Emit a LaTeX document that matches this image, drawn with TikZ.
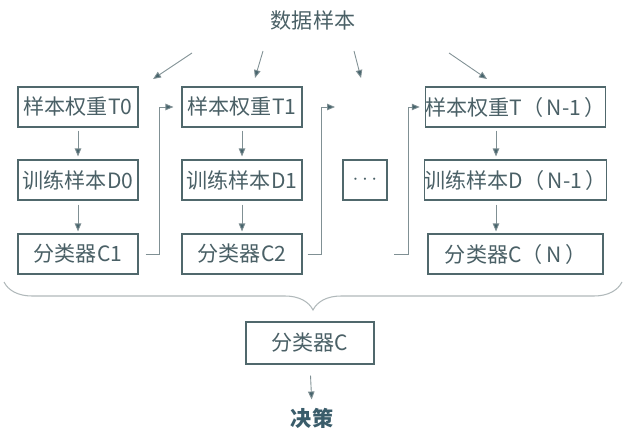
\documentclass[tikz,border=0pt]{standalone}
\usepackage{fontspec}
\setmainfont{Noto Sans CJK SC}
\usepackage{tikz}
\usetikzlibrary{arrows.meta,positioning,calc,decorations.pathreplacing}
\definecolor{boxC}{RGB}{80,104,108}
\definecolor{txtC}{RGB}{74,96,102}
\definecolor{arrC}{RGB}{128,144,148}
\definecolor{tipC}{RGB}{70,100,108}
\definecolor{decC}{RGB}{58,92,106}
\definecolor{brcC}{RGB}{176,184,186}
\tikzset{
  blk/.style={rectangle, draw=boxC, line width=0.6pt, text=txtC, inner sep=0pt,
              align=center, font=\fontsize{12}{14}\selectfont, minimum height=0.8cm, minimum width=#1},
  blk/.default=2.4cm,
  arr/.style={-{Triangle[length=1.6mm,width=1.3mm,fill=tipC]}, line width=0.5pt, draw=arrC},
  brc/.style={decorate, decoration={brace, amplitude=0.56cm}, line width=0.6pt, draw=brcC},
}
\begin{document}
\begin{tikzpicture}
\useasboundingbox (0,0) rectangle (12.8,8.86);
\node[text=txtC, font=\fontsize{12}{14}\selectfont] (src) at (6.26,8.46) {数据样本};
% column 0
\node[blk] (t0) at (1.56,6.72) {样本权重T0};
\node[blk] (d0) at (1.56,5.26) {训练样本D0};
\node[blk] (c1) at (1.56,3.78) {分类器C1};
% column 1
\node[blk] (t1) at (4.84,6.72) {样本权重T1};
\node[blk] (d1) at (4.84,5.26) {训练样本D1};
\node[blk] (c2) at (4.84,3.78) {分类器C2};
% dots
\node[blk=0.88cm] (dots) at (7.30,5.26) {$\cdots$};
% column N-1
\node[blk=3.5cm] (tn) at (10.31,6.72) {样本权重T（\,N-1\,）};
\node[blk=3.5cm] (dn) at (10.31,5.26) {训练样本D（\,N-1\,）};
\node[blk=3.5cm] (cn) at (10.31,3.78) {分类器C（\,N\,）};
% final
\node[blk=2.56cm, minimum height=0.84cm] (cf) at (6.20,2.00) {分类器C};
\node[text=decC, inner sep=0pt, font=\fontsize{12}{14}\selectfont\bfseries] (dec) at (6.24,0.50) {决策};
% free ends of the arrows from the samples
\coordinate (s1) at (3.84,7.80); \coordinate (e1) at (3.06,7.28);
\coordinate (s2) at (5.26,7.84); \coordinate (e2) at (5.10,7.30);
\coordinate (s3) at (7.08,7.84); \coordinate (e3) at (7.22,7.30);
\coordinate (s4) at (8.98,7.80); \coordinate (e4) at (9.74,7.28);
\coordinate (gap1) at (6.70,6.72);
\coordinate (gap2) at (7.88,3.78);
\draw[arr] (s1) -- (e1);
\draw[arr] (s2) -- (e2);
\draw[arr] (s3) -- (e3);
\draw[arr] (s4) -- (e4);
% down the columns
\draw[arr, shorten <=0.06cm, shorten >=0.06cm] (t0) -- (d0);
\draw[arr, shorten <=0.08cm, shorten >=0.04cm] (d0) -- (c1);
\draw[arr, shorten <=0.06cm, shorten >=0.06cm] (t1) -- (d1);
\draw[arr, shorten <=0.08cm, shorten >=0.04cm] (d1) -- (c2);
\draw[arr, shorten <=0.06cm, shorten >=0.06cm] ([xshift=-0.39cm]tn.south) -- ([xshift=-0.39cm]dn.north);
\draw[arr, shorten <=0.08cm, shorten >=0.04cm] ([xshift=-0.39cm]dn.south) -- ([xshift=-0.39cm]cn.north);
% hand over to the next round
\draw[arr, shorten <=0.14cm, shorten >=0.16cm] (c1.east) -- ++(0.42,0) |- (t1.west);
\draw[arr, shorten <=0.1cm] (c2.east) -- ++(0.38,0) |- (gap1);
\draw[arr, shorten >=0.1cm] (gap2) -- ++(0.28,0) |- (tn.west);
% combine
\draw[brc] (12.44,3.22) -- (0.08,3.22);
\draw[arr, shorten <=0.22cm, shorten >=0.16cm] (cf.south) -- (dec.north);
\end{tikzpicture}
\end{document}
